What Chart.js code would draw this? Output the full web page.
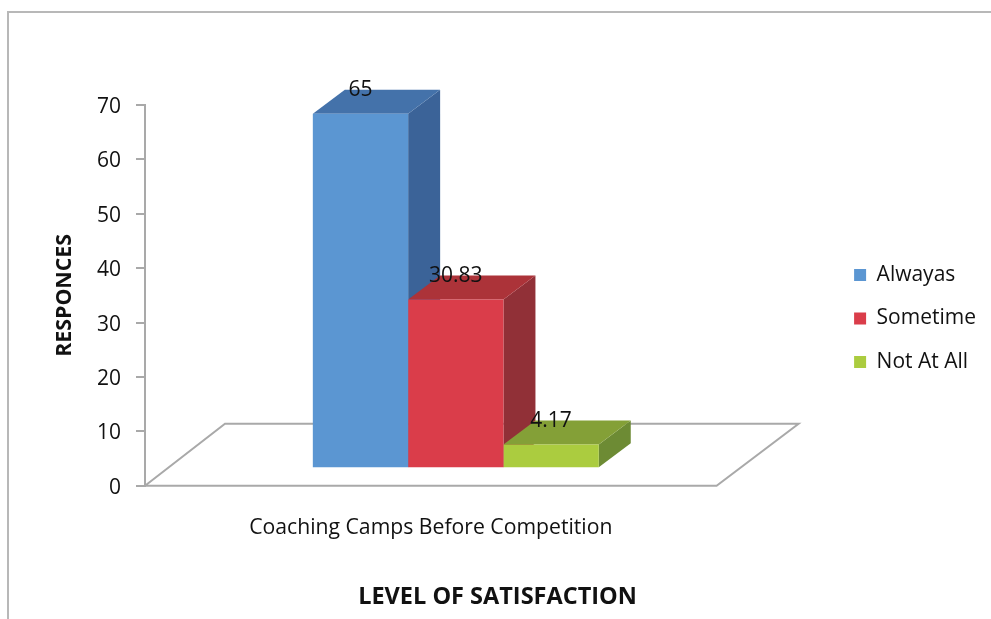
<!DOCTYPE html>
<html>
<head>
<meta charset="utf-8">
<title>Level of satisfaction</title>
<script src="https://cdn.jsdelivr.net/npm/chart.js@4/dist/chart.umd.min.js"></script>
<style>
    html, body { margin: 0; padding: 0; background: #fff; overflow: hidden; width: 991px; height: 619px; }
    #box { position: absolute; left: 7px; top: 11px; width: 1000px; height: 620px; border-left: 2px solid #b8b8b8; border-top: 2px solid #b8b8b8; }
    canvas { display: block; filter: blur(0.6px); }
</style>
</head>
<body>
<div id="box"><canvas id="myBarChart" width="984" height="606"></canvas></div>
<script>
const categories = ['Coaching Camps Before Competition'];
const seriesNames = ['Alwayas', 'Sometime', 'Not At All'];
const alwaysValues = [65];
const sometimeValues = [30.83];
const notAtAllValues = [4.17];
const tickValues = [0, 10, 20, 30, 40, 50, 60, 70];

const frontColors = ['#5b96d2', '#da3d4a', '#abcc3f'];
const topColors = ['#4472aa', '#ac3339', '#84a037'];
const sideColors = ['#3b6398', '#913037', '#6d8b34'];

const textFont = '"Open Sans", sans-serif';
const lineGray = '#a9a9a9';
const depthX = 32, depthY = 24;

function poly(ctx, pts, color) {
    ctx.beginPath();
    pts.forEach((p, i) => i ? ctx.lineTo(p[0], p[1]) : ctx.moveTo(p[0], p[1]));
    ctx.closePath();
    ctx.fillStyle = color;
    ctx.fill();
}

// Lantai, sisi samping dan atas batang (3D)
const bars3d = {
    id: 'bars3d',
    beforeDatasetsDraw(chart) {
        const ctx = chart.ctx;
        const a = chart.chartArea;
        const y0 = chart.scales.y.getPixelForValue(0);
        ctx.save();
        ctx.strokeStyle = lineGray;
        ctx.lineWidth = 2;
        ctx.beginPath();
        ctx.moveTo(a.left, y0);
        ctx.lineTo(a.left + 80, y0 - 62);
        ctx.lineTo(a.right + 32, y0 - 62);
        ctx.lineTo(a.right - 50, y0);
        ctx.closePath();
        ctx.stroke();
        chart.data.datasets.forEach((ds, i) => {
            const b = chart.getDatasetMeta(i).data[0];
            const l = b.x - b.width / 2, r = b.x + b.width / 2;
            poly(ctx, [[r, b.y], [r + depthX, b.y - depthY], [r + depthX, b.base - depthY], [r, b.base]], sideColors[i]);
            poly(ctx, [[l, b.y], [l + depthX, b.y - depthY], [r + depthX, b.y - depthY], [r, b.y]], topColors[i]);
        });
        ctx.restore();
    },
    afterDatasetsDraw(chart) {
        const ctx = chart.ctx;
        ctx.save();
        ctx.font = '21px ' + textFont;
        ctx.fillStyle = '#111';
        ctx.textAlign = 'center';
        ctx.textBaseline = 'middle';
        chart.data.datasets.forEach((ds, i) => {
            const b = chart.getDatasetMeta(i).data[0];
            ctx.fillText(String(ds.data[0]), b.x, b.y - 24);
        });
        ctx.restore();
    }
};

const ctxBar = document.getElementById('myBarChart').getContext('2d');
const myBarChart = new Chart(ctxBar, {
    type: 'bar',
    plugins: [bars3d],
    data: {
        labels: categories,
        datasets: [
            { label: seriesNames[0], data: alwaysValues, backgroundColor: frontColors[0], yAxisID: 'yBars' },
            { label: seriesNames[1], data: sometimeValues, backgroundColor: frontColors[1], yAxisID: 'yBars' },
            { label: seriesNames[2], data: notAtAllValues, backgroundColor: frontColors[2], yAxisID: 'yBars' }
        ]
    },
    options: {
        responsive: false,
        animation: false,
        layout: { autoPadding: false, padding: { top: 5, right: 7, left: 0, bottom: 0 } },
        datasets: { bar: { barPercentage: 1, categoryPercentage: 0.46 } },
        plugins: {
            tooltip: { enabled: false },
            title: {
                display: true,
                position: 'bottom',
                text: 'LEVEL OF SATISFACTION',
                color: '#111',
                font: { family: textFont, size: 23.5, weight: 'bold' },
                padding: { top: 0, bottom: 8 }
            },
            legend: {
                position: 'right',
                labels: {
                    boxWidth: 12,
                    boxHeight: 12,
                    padding: 22.5,
                    color: '#111',
                    font: { family: textFont, size: 21 }
                }
            }
        },
        scales: {
            x: {
                grid: { display: false },
                border: { display: false },
                afterFit(s) { s.height = 97; },
                ticks: { padding: 21, labelOffset: -25, color: '#111', font: { family: textFont, size: 21.2 } }
            },
            // tempat kosong di atas plot
            xTop: {
                type: 'category',
                position: 'top',
                grid: { display: false },
                border: { display: false },
                ticks: { display: false },
                afterFit(s) { s.height = 87; }
            },
            y: {
                min: 0,
                max: 70,
                afterFit(s) { s.width = 136; },
                afterBuildTicks(s) { s.ticks = tickValues.map(v => ({ value: v })); },
                border: { display: true, color: lineGray, width: 2 },
                grid: { drawOnChartArea: false, drawTicks: true, tickLength: 9, color: lineGray, lineWidth: 2 },
                ticks: { padding: 15, labelOffset: 2, color: '#111', font: { family: textFont, size: 21 } },
                title: {
                    display: true,
                    text: 'RESPONCES',
                    color: '#111',
                    font: { family: textFont, size: 21.3, weight: 'bold' },
                    padding: { top: 43, bottom: 0 }
                }
            },
            // skala batang: dasar batang terangkat dari garis 0
            yBars: {
                position: 'right',
                min: -3.4,
                max: 66.6,
                grid: { display: false },
                border: { display: false },
                ticks: { display: false },
                afterFit(s) { s.width = 65; }
            }
        }
    }
});
</script>
</body>
</html>
